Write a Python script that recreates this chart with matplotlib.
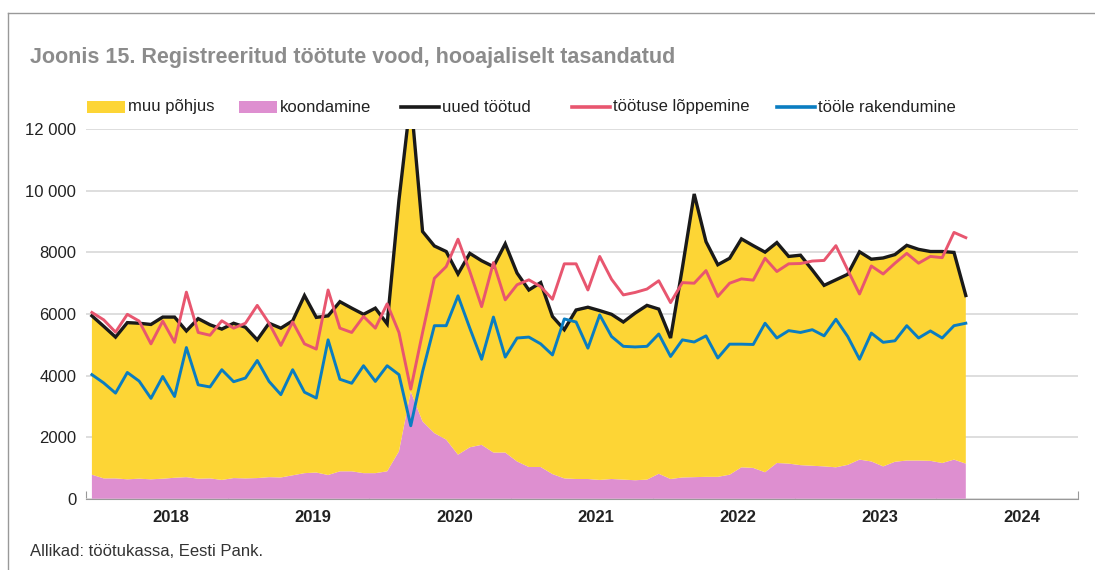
import matplotlib
matplotlib.use("Agg")
import matplotlib.pyplot as plt
from matplotlib.lines import Line2D
from matplotlib.patches import Rectangle
from matplotlib.ticker import FixedLocator, FuncFormatter
import numpy as np

plt.rcParams["font.family"] = ["Liberation Sans", "DejaVu Sans"]

# monthly, Jan 2018 .. Mar 2024, seasonally adjusted
uued = [5940, 5600, 5250, 5720, 5700, 5660, 5900, 5900, 5450, 5850, 5650, 5510,
        5700, 5570, 5160, 5700, 5540, 5780, 6600, 5890, 5940, 6400, 6190, 5990,
        6190, 5680, 9700, 13000, 8680, 8210, 8030, 7300, 7970, 7730, 7540, 8280,
        7330, 6780, 7020, 5920, 5490, 6130, 6220, 6110, 5990, 5740, 6030, 6280,
        6160, 5220, 7500, 9900, 8350, 7600, 7810, 8440, 8220, 8010, 8320, 7870,
        7910, 7430, 6930, 7110, 7290, 8020, 7780, 7820, 7930, 8230, 8100, 8030,
        8030, 8000, 6600]
koondamine = [780, 660, 660, 630, 650, 630, 650, 680, 700, 650, 660, 610,
              670, 660, 670, 700, 690, 760, 830, 850, 770, 890, 890, 830,
              830, 890, 1540, 3480, 2510, 2130, 1920, 1430, 1670, 1750, 1500, 1500,
              1210, 1030, 1030, 800, 660, 640, 640, 610, 640, 620, 600, 620,
              810, 640, 690, 700, 710, 710, 780, 1020, 1000, 860, 1160, 1140,
              1090, 1070, 1050, 1020, 1100, 1270, 1210, 1050, 1200, 1240, 1240, 1230,
              1160, 1270, 1140]
loppemine = [6050, 5810, 5410, 5990, 5770, 5030, 5770, 5080, 6710, 5400, 5310, 5780,
             5540, 5700, 6280, 5700, 4980, 5740, 5030, 4860, 6780, 5540, 5400, 5920,
             5540, 6330, 5400, 3560, 5400, 7160, 7540, 8430, 7380, 6240, 7670, 6460,
             6950, 7110, 6890, 6480, 7630, 7630, 6780, 7870, 7130, 6620, 6700, 6810,
             7080, 6370, 7020, 7000, 7410, 6570, 7000, 7140, 7100, 7810, 7380, 7630,
             7640, 7720, 7740, 8220, 7430, 6650, 7560, 7300, 7650, 7970, 7650, 7870,
             7830, 8650, 8480]
rakendumine = [4030, 3760, 3430, 4100, 3820, 3260, 3970, 3320, 4910, 3700, 3630, 4190,
               3800, 3920, 4490, 3810, 3380, 4190, 3460, 3270, 5160, 3880, 3750, 4320,
               3810, 4320, 4030, 2370, 4130, 5620, 5620, 6590, 5540, 4530, 5900, 4600,
               5220, 5250, 5030, 4670, 5840, 5740, 4890, 5970, 5270, 4950, 4930, 4950,
               5350, 4620, 5160, 5090, 5290, 4570, 5020, 5020, 5010, 5700, 5220, 5460,
               5400, 5490, 5290, 5830, 5270, 4530, 5380, 5080, 5130, 5620, 5220, 5450,
               5220, 5620, 5700]
years = ["2018", "2019", "2020", "2021", "2022", "2023", "2024"]

YELLOW = "#fdd535"
PINK = "#de8fd0"
BLACK = "#1a1a1a"
RED = "#e8566f"
BLUE = "#0a7dc1"
GRID = "#d4d4d4"

x = np.arange(len(uued))
muu = np.array(uued) - np.array(koondamine)

fig = plt.figure(figsize=(10.95, 5.70), dpi=100)
W, H = 1095, 570
ax = fig.add_axes([86 / W, 1 - 498.7 / H, (1078 - 86) / W, (498.7 - 129.3) / H])

ax.stackplot(x, koondamine, muu, colors=[PINK, YELLOW], linewidth=0)
ax.plot(x, uued, color=BLACK, lw=2.4, solid_joinstyle="miter")
ax.plot(x, loppemine, color=RED, lw=2.1)
ax.plot(x, rakendumine, color=BLUE, lw=2.1)

n_months = 12 * len(years)
ax.set_xlim(-0.5, n_months - 0.5)
ax.set_ylim(0, 12000)

ax.yaxis.set_major_locator(FixedLocator(range(0, 12001, 2000)))
ax.yaxis.set_major_formatter(FuncFormatter(
    lambda v, p: f"{v:,.0f}".replace(",", " ") if v >= 10000 else f"{v:.0f}"))
ax.grid(axis="y", color=GRID, lw=1.1)
ax.set_axisbelow(True)
ax.tick_params(axis="y", length=0, pad=7, labelsize=12, labelcolor="#222222")

# year boundaries as ticks, labels sit inside each year
ax.set_xticks(np.arange(-0.5, n_months, 12))
ax.set_xticklabels([])
ax.tick_params(axis="x", which="major", direction="in", length=6, color="#999999")
ax.set_xticks(np.arange(len(years)) * 12 + 6.7, minor=True)
ax.set_xticklabels(years, minor=True, fontsize=12, fontweight="bold", color="#222222")
ax.tick_params(axis="x", which="minor", length=0, pad=8)

for s in ["top", "left", "right"]:
    ax.spines[s].set_visible(False)
ax.spines["bottom"].set_color("#999999")
ax.spines["bottom"].set_zorder(5)

# outer frame lines (top + left)
fig.add_artist(Line2D([7.5 / W, 1], [1 - 12.5 / H] * 2, color="#999999", lw=1))
fig.add_artist(Line2D([7.5 / W] * 2, [0, 1 - 12.5 / H], color="#999999", lw=1))

fig.text(30 / W, 1 - 57 / H, "Joonis 15. Registreeritud töötute vood, hooajaliselt tasandatud",
         fontsize=15.5, fontweight="bold", color="#8c8c8c", va="center", ha="left")

# legend
ly = 1 - 107 / H
items = [("patch", YELLOW, "muu põhjus", 87),
         ("patch", PINK, "koondamine", 239),
         ("line", BLACK, "uued töötud", 401),
         ("line", RED, "töötuse lõppemine", 572),
         ("line", BLUE, "tööle rakendumine", 777)]
for kind, col, label, x0 in items:
    if kind == "patch":
        fig.add_artist(Rectangle((x0 / W, ly - 6 / H), 38 / W, 12 / H,
                                 facecolor=col, edgecolor="none"))
    else:
        fig.add_artist(Line2D([x0 / W, (x0 + 38) / W], [ly, ly], color=col, lw=2.6))
    fig.text((x0 + 41) / W, ly, label, fontsize=12, color="#222222", va="center", ha="left")

fig.text(30 / W, 1 - 552 / H, "Allikad: töötukassa, Eesti Pank.",
         fontsize=12, color="#333333", va="center", ha="left")

fig.savefig("out.png", dpi=100)
